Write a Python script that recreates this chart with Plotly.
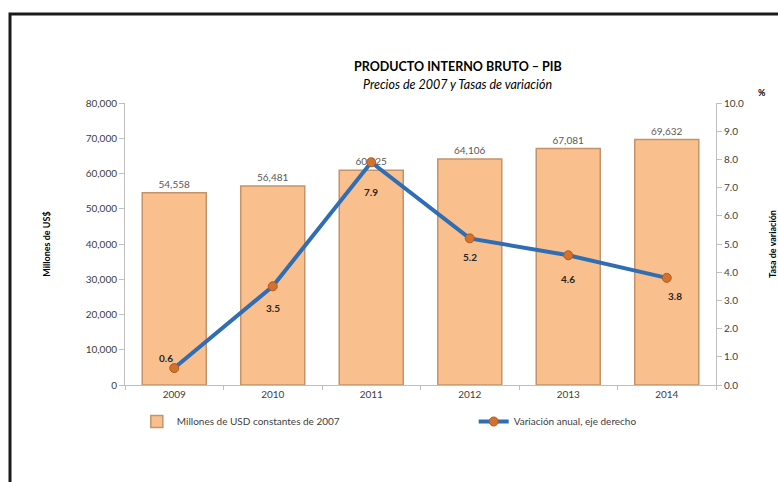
import plotly.graph_objects as go

years = ["2009", "2010", "2011", "2012", "2013", "2014"]
pib_millones = [54558, 56481, 60925, 64106, 67081, 69632]
variacion = [0.6, 3.5, 7.9, 5.2, 4.6, 3.8]
pib_labels = ["54,558", "56,481", "60,925", "64,106", "67,081", "69,632"]
var_labels = ["0.6", "3.5", "7.9", "5.2", "4.6", "3.8"]

# label offsets (styling) for the line labels, in pixels
lbl_dx = [-8, 0, 0, 0, 0, 8]
lbl_dy = [10, -22, -30, -19, -24, -18]

FONT = "Lato"

fig = go.Figure()
fig.add_trace(go.Bar(
    x=years, y=pib_millones, name="Millones de USD constantes de 2007",
    marker=dict(color="#F9BF8C", line=dict(color="#C4936A", width=1.5)),
    width=0.65,
    text=pib_labels, textposition="outside",
    textfont=dict(family=FONT, size=10, color="#595959"),
    cliponaxis=False, legend="legend",
))
fig.add_trace(go.Scatter(
    x=years, y=variacion, name="Variación anual, eje derecho",
    mode="lines+markers", yaxis="y2",
    line=dict(color="#2F6DB5", width=4),
    marker=dict(color="#D2722C", size=9, line=dict(color="#B35A1E", width=1)),
    cliponaxis=False, legend="legend2",
))
# category axis: annotation x given as category index
for i, (v, t, dx, dy) in enumerate(zip(variacion, var_labels, lbl_dx, lbl_dy)):
    fig.add_annotation(x=i, y=v, xref="x", yref="y2", text="<b>" + t + "</b>", showarrow=False,
                       xshift=dx, yshift=dy,
                       font=dict(family=FONT, size=10, color="#262626"))

fig.add_annotation(xref="paper", yref="paper", x=0.563, y=1.13, yanchor="middle",
                   text="<b>PRODUCTO INTERNO BRUTO – PIB</b>",
                   showarrow=False, font=dict(family=FONT, size=12.5, color="#000000"))
fig.add_annotation(xref="paper", yref="paper", x=0.563, y=1.067, yanchor="middle",
                   text="<i>Precios de 2007 y Tasas de variación</i>",
                   showarrow=False, font=dict(family=FONT, size=12.5, color="#000000"))
fig.add_annotation(xref="paper", yref="paper", x=1.088, y=1.039, yanchor="middle", text="<b>%</b>",
                   showarrow=False, font=dict(family=FONT, size=9, color="#000000"))

# outer frame
fig.add_shape(type="rect", xref="paper", yref="paper",
              x0=(10 - 125) / 591, x1=(800 - 125) / 591,
              y0=(385 - 520) / 282, y1=(385 - 14) / 282,
              line=dict(color="#1a1a1a", width=3), fillcolor="rgba(0,0,0,0)", layer="above")

legend_style = dict(orientation="h", yanchor="top", xanchor="left",
                    font=dict(family=FONT, size=10, color="#404040"), bgcolor="rgba(0,0,0,0)")

fig.update_layout(
    width=778, height=482,
    margin=dict(l=125, r=62, t=103, b=97, autoexpand=False),
    paper_bgcolor="white", plot_bgcolor="white",
    font=dict(family=FONT, size=10, color="#404040"),
    showlegend=True,
    legend=dict(x=0.02, y=-0.078, **legend_style),
    legend2=dict(x=0.59, y=-0.078, **legend_style),
    bargap=0.35,
    xaxis=dict(type="category", range=[-0.5, 5.5], autorange=False, automargin=False,
               showline=True, linecolor="#BFBFBF", linewidth=1, ticks="outside", ticklen=4,
               tickcolor="#BFBFBF", tickson="boundaries", showgrid=False, tickangle=0,
               tickfont=dict(family=FONT, size=10, color="#404040")),
    yaxis=dict(range=[0, 80000], dtick=10000, tickformat=",", showline=True, linecolor="#BFBFBF",
               ticks="outside", ticklen=5, tickcolor="#BFBFBF", showgrid=False, zeroline=False,
               automargin=False,
               title=dict(text="<b>Millones de US$</b>", font=dict(family=FONT, size=9, color="#000000"), standoff=33),
               tickfont=dict(family=FONT, size=10, color="#404040")),
    yaxis2=dict(range=[0, 10], dtick=1, tickformat=".1f", overlaying="y", side="right",
                showline=True, linecolor="#BFBFBF", ticks="outside", ticklen=5, tickcolor="#BFBFBF",
                showgrid=False, zeroline=False, automargin=False,
                title=dict(text="<b>Tasa de variación</b>", font=dict(family=FONT, size=9, color="#000000"), standoff=30),
                tickfont=dict(family=FONT, size=10, color="#404040")),
)

fig.write_html("out.html")
